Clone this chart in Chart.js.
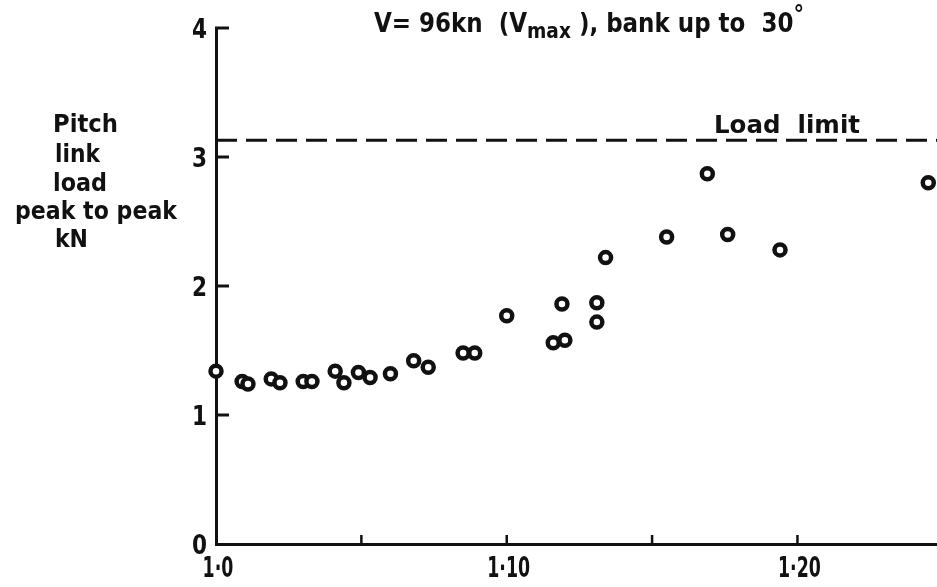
<!DOCTYPE html>
<html>
<head>
<meta charset="utf-8">
<style>
  html, body { margin: 0; padding: 0; background: #fff; }
</style>
<script src="https://cdn.jsdelivr.net/npm/chart.js@4.4.1/dist/chart.umd.min.js"></script>
</head>
<body>
<canvas id="grafico" width="937" height="587"></canvas>
<script>
// load factor n (x) against pitch link load peak to peak, kN (y)
const loadFactor = [
  1.000, 1.009, 1.011, 1.019, 1.022, 1.030, 1.033, 1.041, 1.044, 1.049,
  1.053, 1.060, 1.068, 1.073, 1.085, 1.089, 1.100, 1.116, 1.120, 1.119,
  1.131, 1.131, 1.134, 1.155, 1.169, 1.176, 1.194, 1.245
];
const pitchLinkLoad = [
  1.34, 1.26, 1.24, 1.28, 1.25, 1.26, 1.26, 1.34, 1.25, 1.33,
  1.29, 1.32, 1.42, 1.37, 1.48, 1.48, 1.77, 1.56, 1.58, 1.86,
  1.87, 1.72, 2.22, 2.38, 2.87, 2.40, 2.28, 2.80
];
const loadLimit = 3.13;

const xRange = [1.0, 1.248];
const yRange = [0, 4];
const xTickValues = [1.05, 1.10, 1.15, 1.20];
const yTickValues = [1, 2, 3, 4];
const yLabelValues = [0, 1, 2, 3, 4];
const xLabelValues = [1.0, 1.10, 1.20];
const xLabelText = ['1·0', '1·10', '1·20'];
const yTitleLines = ['Pitch', 'link', 'load', 'peak to peak', 'kN'];

const FONT = "'DejaVu Sans', 'Liberation Sans', sans-serif";
const INK = '#111';

const pontos = loadFactor.map((x, i) => ({ x, y: pitchLinkLoad[i] }));

// text squeezed horizontally by sx, like the stencil lettering
function textoEstreito(ctx, txt, x, y, size, sx, align) {
  ctx.save();
  ctx.font = 'bold ' + size + 'px ' + FONT;
  const w = ctx.measureText(txt).width * sx;
  let x0 = x;
  if (align === 'center') x0 = x - w / 2;
  if (align === 'right') x0 = x - w;
  ctx.translate(x0, y);
  ctx.scale(sx, 1);
  ctx.textAlign = 'left';
  ctx.textBaseline = 'alphabetic';
  ctx.fillText(txt, 0, 0);
  ctx.restore();
  return w;
}

// a run of pieces (with sub/superscripts) fitted to a given width
function textoAjustado(ctx, partes, x, y, largura) {
  let natural = 0;
  partes.forEach(p => {
    ctx.font = 'bold ' + p.size + 'px ' + FONT;
    natural += ctx.measureText(p.t).width;
  });
  const sx = largura / natural;
  let cx = x;
  partes.forEach(p => {
    cx += textoEstreito(ctx, p.t, cx, y + (p.dy || 0), p.size, sx, 'left');
  });
}

const desenhos = {
  id: 'desenhos',
  afterDraw(chart) {
    const { ctx, scales: { x, y } } = chart;
    ctx.save();
    ctx.strokeStyle = INK;
    ctx.fillStyle = INK;
    ctx.lineCap = 'butt';

    // inward tick marks
    ctx.lineWidth = 3;
    yTickValues.forEach(v => {
      const py = y.getPixelForValue(v);
      ctx.beginPath();
      ctx.moveTo(x.left - 1, py);
      ctx.lineTo(x.left + 13, py);
      ctx.stroke();
    });
    ctx.lineWidth = 2.5;
    xTickValues.forEach(v => {
      const px = x.getPixelForValue(v);
      ctx.beginPath();
      ctx.moveTo(px, y.bottom);
      ctx.lineTo(px, y.bottom - 9);
      ctx.stroke();
    });

    // tick labels
    yLabelValues.forEach(v => {
      textoEstreito(ctx, String(v), x.left - 9, y.getPixelForValue(v) + 10, 27, 0.8, 'right');
    });
    xLabelValues.forEach((v, i) => {
      textoEstreito(ctx, xLabelText[i], x.getPixelForValue(v) + 2, 577, 29, 0.6, 'center');
    });

    // title
    textoAjustado(ctx, [
      { t: 'V= 96kn  (V', size: 26 },
      { t: 'max', size: 21, dy: 6 },
      { t: ' ), bank up to  30', size: 26 },
      { t: '°', size: 24, dy: -9 }
    ], 374, 32, 430);

    // limit label
    textoAjustado(ctx, [{ t: 'Load  limit', size: 25 }], 714, 133, 146);

    // y axis title
    const esquerda = [53, 55, 53, 15, 55];
    const largura = [65, 45, 54, 162, 33];
    const base = [132, 162, 191, 219, 247];
    yTitleLines.forEach((linha, i) => {
      textoAjustado(ctx, [{ t: linha, size: 25 }], esquerda[i], base[i], largura[i]);
    });
    ctx.restore();
  }
};

new Chart(document.getElementById('grafico'), {
  type: 'scatter',
  data: {
    datasets: [
      {
        label: 'Load limit',
        type: 'line',
        data: [{ x: xRange[0], y: loadLimit }, { x: xRange[1], y: loadLimit }],
        borderColor: INK,
        borderWidth: 3,
        borderDash: [21, 9],
        pointRadius: 0,
        clip: false
      },
      {
        label: 'rings',
        data: pontos,
        pointRadius: 5.5,
        borderWidth: 4.5,
        borderColor: INK,
        backgroundColor: '#fff',
        clip: false
      },
      {
        label: 'dots',
        data: pontos,
        pointRadius: 1.4,
        borderWidth: 0,
        backgroundColor: INK,
        clip: false
      }
    ]
  },
  options: {
    responsive: false,
    animation: false,
    layout: { autoPadding: false, padding: { top: 28, left: 0, right: 0, bottom: 0 } },
    plugins: {
      legend: { display: false },
      tooltip: { enabled: false }
    },
    scales: {
      x: {
        type: 'linear',
        min: xRange[0],
        max: xRange[1],
        afterFit: s => { s.height = 43; },
        grid: { display: false, drawTicks: false },
        border: { display: true, color: INK, width: 3 },
        ticks: { display: false }
      },
      y: {
        min: yRange[0],
        max: yRange[1],
        afterFit: s => { s.width = 216; },
        grid: { display: false, drawTicks: false },
        border: { display: true, color: INK, width: 3 },
        ticks: { display: false }
      }
    }
  },
  plugins: [desenhos]
});
</script>
</body>
</html>
